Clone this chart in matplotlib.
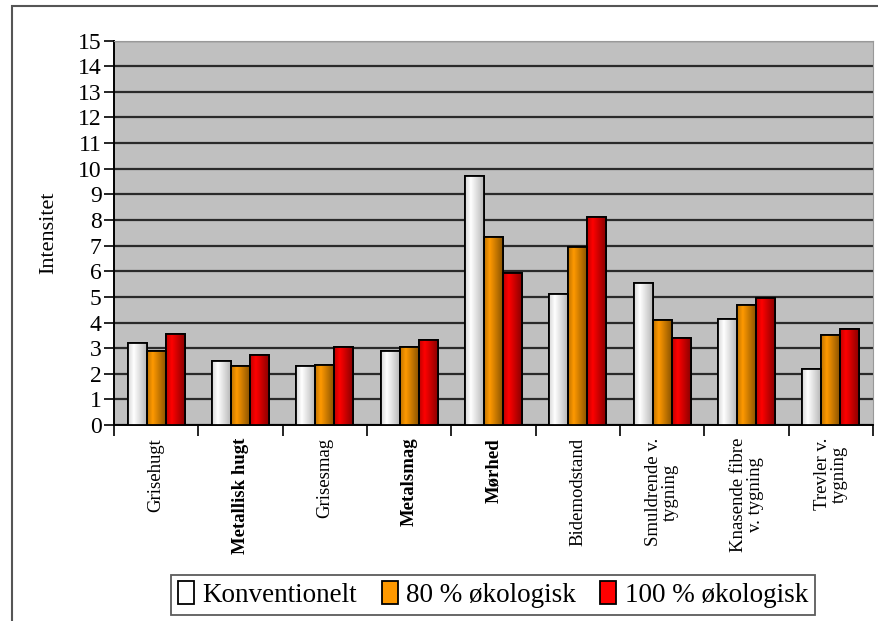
import numpy as np
import matplotlib.pyplot as plt
from matplotlib.patches import Rectangle
from matplotlib.colors import to_rgb

# kategorier og intensiteter for de tre fodertyper
kategorier = ['Grisehugt', 'Metallisk hugt', 'Grisesmag', 'Metalsmag', 'Mørhed',
              'Bidemodstand', 'Smuldrende v.\ntygning', 'Knasende fibre\nv. tygning',
              'Trevler v.\ntygning']
konventionelt = [3.2, 2.5, 2.3, 2.9, 9.7, 5.1, 5.55, 4.15, 2.2]
oko80 = [2.9, 2.3, 2.35, 3.05, 7.35, 6.95, 4.1, 4.7, 3.5]
oko100 = [3.55, 2.75, 3.05, 3.3, 5.95, 8.1, 3.4, 4.95, 3.75]
serier = ['Konventionelt', '80 % økologisk', '100 % økologisk']
farver = ['#ffffff', '#ff9900', '#ff0000']
fede = ['Metallisk hugt', 'Metalsmag', 'Mørhed']

plt.rcParams['font.family'] = ['Liberation Serif', 'DejaVu Serif']

fig = plt.figure(figsize=(8.79, 6.21), dpi=100)
# ramme rundt om hele diagrammet
fig.patches.append(Rectangle((12 / 879, -0.1), 1.2, 1 - 6 / 621 + 0.1,
                             transform=fig.transFigure, fill=False,
                             edgecolor='#555555', linewidth=1.5))

ax = fig.add_axes([0.1297, 0.3156, 0.8635, 0.619])
ax.set_facecolor('#c0c0c0')

x = np.arange(len(kategorier))
w = 0.225


def skygge(farve, n=40):
    # vandret lysprofil der giver søjlen et cylinderagtigt udseende
    t = np.linspace(0, 1, n)
    lys = np.where(t < 0.3, 0.75 + 0.25 * t / 0.3, 1 - 0.45 * (t - 0.3) / 0.7)
    base = np.array(to_rgb(farve))
    if farve == '#ffffff':
        lys = 0.72 + 0.28 * (lys - 0.55) / 0.45
    img = np.clip(base[None, :] * lys[:, None], 0, 1)
    return img[None, :, :]


for i, (vals, farve, navn) in enumerate(zip([konventionelt, oko80, oko100], farver, serier)):
    pos = x - w + i * w
    bars = ax.bar(pos, vals, width=w, color=farve, edgecolor='black',
                  linewidth=1.3, zorder=3, label=navn)
    for b in bars:
        im = ax.imshow(skygge(farve), extent=(b.get_x(), b.get_x() + b.get_width(), 0, b.get_height()),
                       aspect='auto', zorder=3.5, interpolation='bilinear')
        im.set_clip_path(b)
        ax.add_patch(Rectangle((b.get_x(), 0), b.get_width(), b.get_height(),
                               fill=False, edgecolor='black', linewidth=1.3, zorder=4))

ax.set_xlim(-0.5, len(kategorier) - 0.5)
ax.set_ylim(0, 15)
ax.set_yticks(range(0, 16))
ax.yaxis.grid(True, color='#2a2a2a', linewidth=1.6, zorder=1)
ax.set_axisbelow(True)
ax.tick_params(axis='y', labelsize=17, length=7, width=1.2, pad=2)

# skillestreger mellem kategorierne
ax.set_xticks(np.arange(-0.5, len(kategorier), 1))
ax.set_xticklabels([])
ax.tick_params(axis='x', length=8, width=1.2, direction='out')
for xi, lab in zip(x, kategorier):
    ax.text(xi, -0.5, lab, rotation=90, ha='center', va='top', fontsize=13.5,
            fontweight='bold' if lab in fede else 'normal',
            linespacing=1.0, multialignment='center')

for s in ['left', 'bottom']:
    ax.spines[s].set_linewidth(1.4)
for s in ['top', 'right']:
    ax.spines[s].set_color('#999999')

ax.set_ylabel('Intensitet', fontsize=16, labelpad=14)

leg = fig.legend(loc='center', bbox_to_anchor=(0.561, 0.0423), ncol=3, fontsize=19.5,
                 frameon=True, fancybox=False, edgecolor='#333333',
                 handlelength=0.6, handleheight=0.9, handletextpad=0.3,
                 columnspacing=0.9, borderpad=0.25, borderaxespad=0)
leg.get_frame().set_linewidth(1.3)

fig.savefig('out.png', dpi=100)
